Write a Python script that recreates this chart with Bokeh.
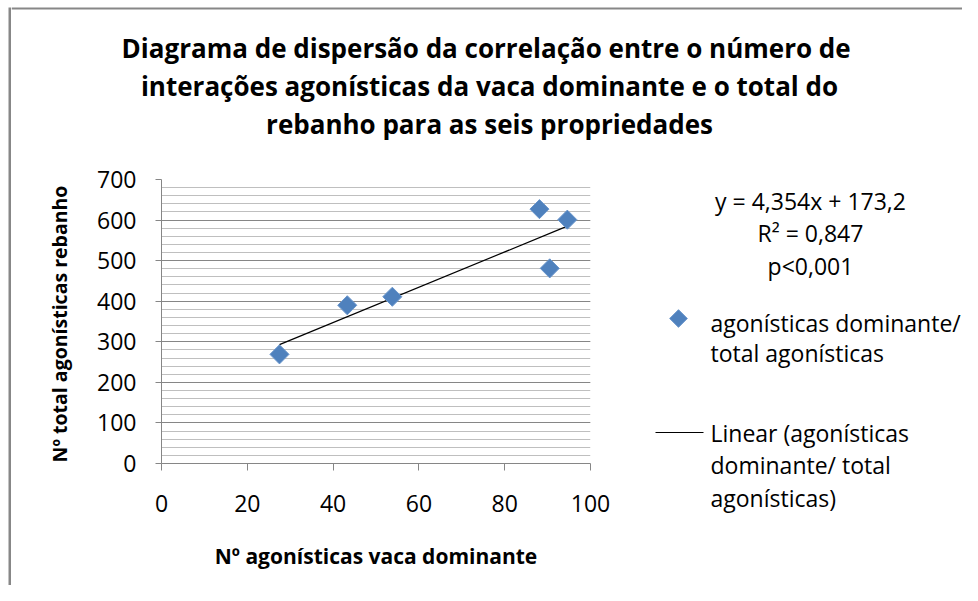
from bokeh.plotting import figure
from bokeh.layouts import row, column
from bokeh.models import FixedTicker, Label, Range1d, BoxAnnotation
from bokeh.embed import file_html
from bokeh.resources import INLINE
import numpy as np

# ---- data ----
x_vals = [27.5, 43.3, 53.8, 88.1, 90.5, 94.6]
y_vals = [269, 390, 411, 627, 481, 601]
x_ticks = [0, 20, 40, 60, 80, 100]
y_ticks = [0, 100, 200, 300, 400, 500, 600, 700]
y_minor = list(range(0, 701, 20))
slope = 4.354
intercept = 173.2
eq_text = ["y = 4,354x + 173,2", "R² = 0,847", "p<0,001"]
title_lines = [
    "Diagrama de dispersão da correlação entre  o número de",
    "interações agonísticas da vaca dominante e o total do",
    "rebanho para as seis propriedades",
]
x_title = "Nº agonísticas vaca dominante"
y_title = "Nº total agonísticas  rebanho"
series_label = ["agonísticas dominante/", "total agonísticas"]
trend_label = ["Linear (agonísticas", "dominante/ total", "agonísticas)"]

FONT = "Open Sans"
BLUE = "#4F81BD"
AXIS = "#868686"
BORDER = "#878787"

# ---- layout sizes (px) ----
TOTAL_W, TOTAL_H = 962, 585
LEFT_W = 11          # blank + left chart border
TOP_H = 158          # title band
MAIN_W = 604         # plot with axes
SIDE_W = TOTAL_W - LEFT_W - MAIN_W
LOW_H = TOTAL_H - TOP_H


def bare(width, height, xr, yr):
    f = figure(width=width, height=height, x_range=xr, y_range=yr,
               output_backend="svg", toolbar_location=None,
               x_axis_location=None, y_axis_location=None,
               min_border_left=0, min_border_right=0,
               min_border_top=0, min_border_bottom=0)
    f.grid.visible = False
    f.outline_line_color = None
    f.frame_align = False
    return f


# left strip with chart border line
edge = bare(LEFT_W, TOTAL_H, Range1d(0, LEFT_W), Range1d(TOTAL_H, 0))
edge.add_layout(BoxAnnotation(left=8, right=11, top=7, bottom=TOTAL_H,
                              fill_color=BORDER, fill_alpha=1, line_color=None))

# title band (x = px from its left, y = px from top)
top = bare(TOTAL_W - LEFT_W, TOP_H, Range1d(0, TOTAL_W - LEFT_W), Range1d(TOP_H, 0))
top.add_layout(BoxAnnotation(left=0, right=TOTAL_W - LEFT_W, top=7, bottom=9,
                             fill_color=BORDER, fill_alpha=1, line_color=None))
for i, t in enumerate(title_lines):
    top.add_layout(Label(x=478, y=47 + i * 38, text=t, text_align="center",
                         text_baseline="middle", text_font=FONT,
                         text_font_size="26px", text_font_style="bold",
                         text_color="#000000"))

# main plot
p = figure(width=MAIN_W, height=LOW_H, x_range=(0, 100), y_range=(0, 700),
           output_backend="svg", toolbar_location=None,
           min_border_left=150, min_border_right=25,
           min_border_top=21, min_border_bottom=LOW_H - 21 - 284)
p.frame_align = False
p.outline_line_color = None
p.xaxis.ticker = FixedTicker(ticks=x_ticks)
p.yaxis.ticker = FixedTicker(ticks=y_ticks, minor_ticks=y_minor)
for ax in (p.xaxis[0], p.yaxis[0]):
    ax.axis_line_color = AXIS
    ax.major_tick_line_color = AXIS
    ax.major_tick_in = 0
    ax.minor_tick_line_color = None
    ax.major_label_text_font = FONT
    ax.major_label_text_font_size = "23px"
    ax.major_label_text_color = "#000000"
    ax.axis_label_text_font = FONT
    ax.axis_label_text_font_style = "bold"
    ax.axis_label_text_color = "#000000"
p.xaxis.axis_label_text_font_size = "21px"
p.yaxis.axis_label_text_font_size = "19.5px"
p.xaxis.major_tick_out = 7
p.yaxis.major_tick_out = 6
p.xaxis.major_label_standoff = 24
p.yaxis.major_label_standoff = 19
p.xaxis.axis_label = x_title
p.yaxis.axis_label = y_title
p.xaxis.axis_label_standoff = 27
p.yaxis.axis_label_standoff = 21
p.xgrid.visible = False
p.ygrid.grid_line_color = AXIS
p.ygrid.grid_line_width = 1
p.ygrid.minor_grid_line_color = "#BFBFBF"

xs = np.array(x_vals)
tx = np.array([xs.min(), xs.max()])
ty = slope * tx + intercept
p.line(tx, ty, line_color="#000000", line_width=1.2)
p.scatter(x_vals, y_vals, marker="square", angle=np.pi / 4, size=13.5,
          fill_color=BLUE, line_color="#6A96CC", line_width=1)

# side band: equation + legend (x = px from its left, y = px from top)
side = bare(SIDE_W, LOW_H, Range1d(0, SIDE_W), Range1d(LOW_H, 0))
for i, t in enumerate(eq_text):
    side.add_layout(Label(x=195, y=42 + i * 32.5, text=t, text_align="center",
                          text_baseline="middle", text_font=FONT,
                          text_font_size="23px", text_color="#000000"))
# legend swatches
side.scatter([63], [160], marker="square", angle=np.pi / 4, size=12.5,
             fill_color=BLUE, line_color="#6A96CC", line_width=1)
side.line([40, 88], [274, 274], line_color="#000000", line_width=1.2)
for i, t in enumerate(series_label):
    side.add_layout(Label(x=95, y=164 + i * 30, text=t, text_align="left",
                          text_baseline="middle", text_font=FONT,
                          text_font_size="23px", text_color="#000000"))
for i, t in enumerate(trend_label):
    side.add_layout(Label(x=95, y=274 + i * 32.5, text=t, text_align="left",
                          text_baseline="middle", text_font=FONT,
                          text_font_size="23px", text_color="#000000"))

layout = row(edge, column(top, row(p, side)))
open("out.html", "w").write(file_html(layout, INLINE))
